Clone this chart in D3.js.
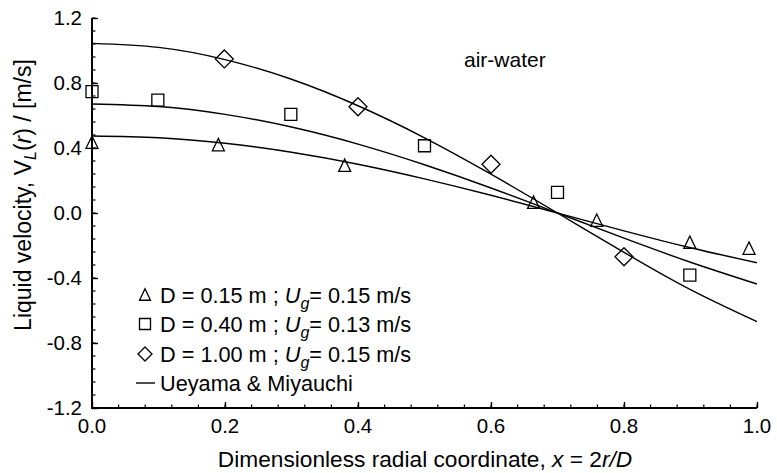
<!DOCTYPE html>
<html>
<head>
<meta charset="utf-8">
<script src="https://cdn.jsdelivr.net/npm/d3@7"></script>
<style>
  html, body { margin: 0; padding: 0; background: #fff; }
  svg { display: block; }
  text { font-family: "Liberation Sans", Arial, sans-serif; fill: #000; }
</style>
</head>
<body>
<svg id="chart" width="777" height="473"></svg>
<script>
// ---- data ----
const xTicks = [0.0, 0.2, 0.4, 0.6, 0.8, 1.0];
const yTicks = [-1.2, -0.8, -0.4, 0.0, 0.4, 0.8, 1.2];

const triX = [0.0, 0.19, 0.38, 0.664, 0.759, 0.899, 0.988];
const triY = [0.433, 0.418, 0.291, 0.063, -0.047, -0.183, -0.219];

const sqX = [0.0, 0.099, 0.299, 0.500, 0.700, 0.899];
const sqY = [0.747, 0.695, 0.607, 0.414, 0.127, -0.382];

const diaX = [0.199, 0.400, 0.600, 0.800];
const diaY = [0.948, 0.654, 0.300, -0.269];

// Ueyama & Miyauchi model curves
const curveX    = [0.0, 0.1, 0.2, 0.3, 0.4, 0.5, 0.6, 0.7, 0.8, 0.9, 1.0];
const curveD015 = [0.474, 0.463, 0.429, 0.374, 0.300, 0.210, 0.109, 0.000, -0.110, -0.214, -0.306];
const curveD040 = [0.671, 0.655, 0.607, 0.529, 0.424, 0.297, 0.154, 0.000, -0.155, -0.303, -0.437];
const curveD100 = [1.044, 1.019, 0.944, 0.823, 0.660, 0.463, 0.239, 0.000, -0.242, -0.472, -0.669];

const legendLabels = [
  {sym: "triangle", d: "D = 0.15 m ; ", ug: "= 0.15 m/s"},
  {sym: "square",   d: "D = 0.40 m ; ", ug: "= 0.13 m/s"},
  {sym: "diamond",  d: "D = 1.00 m ; ", ug: "= 0.15 m/s"},
  {sym: "line",     d: "Ueyama & Miyauchi", ug: null}
];

// ---- layout ----
const svg = d3.select("#chart");
const L = 92, R = 757, T = 18, B = 408;

const x = d3.scaleLinear().domain([0, 1]).range([L, R]);
const y = d3.scaleLinear().domain([-1.2, 1.2]).range([B, T]);

function txt(g, px, py, anchor, size) {
  return g.append("text")
    .attr("x", px).attr("y", py)
    .attr("text-anchor", anchor)
    .attr("font-size", size);
}

// minor ticks
const xMinor = d3.range(0, 1.0001, 0.04);
const yMinor = d3.range(-1.2, 1.2001, 0.08);

const axG = svg.append("g");
axG.selectAll(".xm").data(xMinor).join("line")
  .attr("x1", d => x(d)).attr("x2", d => x(d))
  .attr("y1", B).attr("y2", B - 3.5)
  .attr("stroke", "#000").attr("stroke-width", 1.2);
axG.selectAll(".ym").data(yMinor).join("line")
  .attr("y1", d => y(d)).attr("y2", d => y(d))
  .attr("x1", L).attr("x2", L + 3.5)
  .attr("stroke", "#000").attr("stroke-width", 1.2);

// major axes through d3 axis generators (ticks inward)
const xAxis = d3.axisBottom(x).tickValues(xTicks).tickSize(-6).tickFormat("");
const yAxis = d3.axisLeft(y).tickValues(yTicks).tickSize(-6).tickFormat("");
const gx = svg.append("g").attr("transform", `translate(0,${B})`).call(xAxis);
const gy = svg.append("g").attr("transform", `translate(${L},0)`).call(yAxis);
[gx, gy].forEach(g => {
  g.select(".domain").remove();
  g.selectAll(".tick line").attr("stroke", "#000").attr("stroke-width", 1.4);
});
svg.append("line").attr("x1", L).attr("x2", R).attr("y1", B).attr("y2", B)
  .attr("stroke", "#000").attr("stroke-width", 2);
svg.append("line").attr("x1", L).attr("x2", L).attr("y1", T).attr("y2", B + 1)
  .attr("stroke", "#000").attr("stroke-width", 2);

// tick labels
xTicks.forEach(v => txt(svg, x(v), B + 25, "middle", 20.5).text(v.toFixed(1)));
yTicks.forEach(v => txt(svg, L - 10, y(v) + 7, "end", 20.5).text(v.toFixed(1)));

// model curves
const line = d3.line().x(d => x(d[0])).y(d => y(d[1])).curve(d3.curveNatural);
[curveD015, curveD040, curveD100].forEach(arr => {
  svg.append("path")
    .datum(curveX.map((cx, i) => [cx, arr[i]]))
    .attr("d", line)
    .attr("fill", "none").attr("stroke", "#000").attr("stroke-width", 1.4);
});

// markers
function sym(type, size) {
  if (type === "triangle") {
    const h = size * 0.95, w = size;
    return `M0,${-h/2-1}L${w/2},${h/2}L${-w/2},${h/2}Z`;
  }
  if (type === "square") {
    const s = size / 2;
    return `M${-s},${-s}H${s}V${s}H${-s}Z`;
  }
  const s = size / 2;
  return `M0,${-s}L${s},0L0,${s}L${-s},0Z`;
}
function drawPts(xs, ys, type, size) {
  svg.append("g").selectAll("path").data(xs.map((v, i) => [v, ys[i]])).join("path")
    .attr("transform", d => `translate(${x(d[0])},${y(d[1])})`)
    .attr("d", sym(type, size))
    .attr("fill", "none").attr("stroke", "#000").attr("stroke-width", 1.3);
}
drawPts(triX, triY, "triangle", 12);
drawPts(sqX, sqY, "square", 12);
drawPts(diaX, diaY, "diamond", 18);

// annotation
txt(svg, 464, 67, "start", 21).text("air-water");

// legend
const legY = [295, 324, 354, 383];
legendLabels.forEach((it, i) => {
  const cy = legY[i];
  if (it.sym === "line") {
    svg.append("line").attr("x1", 136).attr("x2", 155).attr("y1", cy).attr("y2", cy)
      .attr("stroke", "#000").attr("stroke-width", 1.4);
  } else {
    const sz = it.sym === "diamond" ? 14 : 11;
    svg.append("path").attr("transform", `translate(145,${cy})`)
      .attr("d", sym(it.sym, sz))
      .attr("fill", "none").attr("stroke", "#000").attr("stroke-width", 1.3);
  }
  const t = txt(svg, 160, cy + 7.5, "start", 21.7);
  t.append("tspan").text(it.d);
  if (it.ug) {
    t.append("tspan").attr("font-style", "italic").text("U");
    t.append("tspan").attr("font-style", "italic").attr("font-size", 16).attr("dy", 6).text("g");
    t.append("tspan").attr("dy", -6).text(it.ug);
  }
});

// axis titles
const xt = txt(svg, 425, 467, "middle", 22.7);
xt.append("tspan").text("Dimensionless radial coordinate, ");
xt.append("tspan").attr("font-style", "italic").text("x");
xt.append("tspan").text(" = 2");
xt.append("tspan").attr("font-style", "italic").text("r/D");

const yt = svg.append("text")
  .attr("transform", `translate(31,195) rotate(-90)`)
  .attr("text-anchor", "middle").attr("font-size", 23);
yt.append("tspan").text("Liquid velocity, V");
yt.append("tspan").attr("font-style", "italic").attr("font-size", 16).attr("dy", 5).text("L");
yt.append("tspan").attr("dy", -5).text("(");
yt.append("tspan").attr("font-style", "italic").text("r");
yt.append("tspan").text(") / [m/s]");
</script>
</body>
</html>
